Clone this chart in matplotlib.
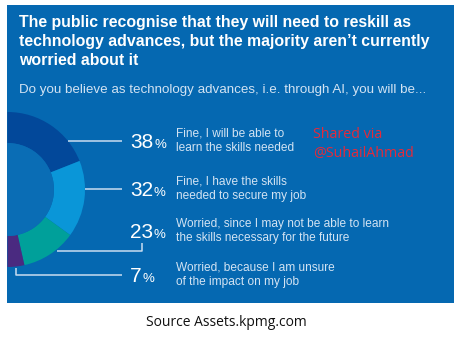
import matplotlib
matplotlib.use("Agg")
import matplotlib.pyplot as plt
from matplotlib.patches import Rectangle, Circle

plt.rcParams['font.family'] = ['Liberation Sans', 'DejaVu Sans']

# survey answers
shares = [38, 32, 23, 7]
answers = [
    "Fine, I will be able to\nlearn the skills needed",
    "Fine, I have the skills\nneeded to secure my job",
    "Worried, since I may not be able to learn\nthe skills necessary for the future",
    "Worried, because I am unsure\nof the impact on my job",
]
seg_colors = ['#02489A', '#0A96D8', '#00A09A', '#4A2A80']

title = ("The public recognise that they will need to reskill as\n"
         "technology advances, but the majority aren\u2019t currently\n"
         "worried about it")
question = "Do you believe as technology advances, i.e. through AI, you will be..."

W, H = 454, 346
BG = '#0568B1'
PALE = '#D2E3F3'


def py(y):
    # pixel row (from top) -> data y
    return H - y


fig = plt.figure(figsize=(W / 100, H / 100), dpi=100)
ax = fig.add_axes([0, 0, 1, 1])

panel = Rectangle((7, py(303)), W - 7, 298, facecolor=BG, edgecolor='none', zorder=0)
ax.add_patch(panel)

# half donut: the hidden half balances the visible one
cx, cy, r_out, r_in = 7.5, py(189.5), 77.5, 46.5
wedges, _ = ax.pie(shares + [sum(shares)], colors=seg_colors + ['none'],
                   startangle=90, counterclock=False, radius=r_out,
                   center=(cx, cy), frame=True,
                   wedgeprops=dict(width=r_out - r_in, linewidth=0))
for w in wedges:
    w.set_clip_path(panel)
hole = Circle((cx, cy), r_in, facecolor='#0A6DB5', edgecolor='none', zorder=1)
ax.add_patch(hole)
hole.set_clip_path(panel)

# leader lines
lc = dict(color='#C9DDF0', lw=1.1, solid_capstyle='butt', zorder=3)
ax.plot([68, 122], [py(141), py(141)], **lc)
ax.plot([85, 122], [py(189), py(189)], **lc)
ax.plot([57, 142, 142], [py(251), py(251), py(243)], **lc)
ax.plot([16, 16, 122], [py(268), py(275), py(275)], **lc)

# percentages and answer labels
pct_y = [148, 196, 238, 282]
lab_y = [141, 189, 231, 275]
for v, txt, yp, yl in zip(shares, answers, pct_y, lab_y):
    num = ax.text(130, py(yp), str(v), color='white', fontsize=15,
                  ha='left', va='baseline', zorder=4)
    ax.annotate('%', xy=(1, 0.19), xycoords=num, xytext=(0.6, 0),
                textcoords='offset points', color='white', fontsize=9.5,
                ha='left', va='baseline', zorder=4)
    ax.text(176, py(yl), txt, color=PALE, fontsize=8.6, ha='left',
            va='center', linespacing=1.3, zorder=4)

ax.text(19, py(15), title, color='white', fontsize=11.4, fontweight='bold',
        ha='left', va='top', linespacing=1.32)
ax.text(19, py(90), question, color=PALE, fontsize=9.6, ha='left', va='center')

ax.text(313, py(144), "Shared via\n@SuhailAhmad", color='#E52A3A',
        fontsize=10.3, family=['Open Sans', 'DejaVu Sans'],
        ha='left', va='center', linespacing=1.3)

ax.text(226, py(322), "Source Assets.kpmg.com", color='#111111',
        fontsize=10, family=['Open Sans', 'DejaVu Sans'],
        ha='center', va='center')

ax.set_xlim(0, W)
ax.set_ylim(0, H)
ax.set_aspect('auto')
ax.axis('off')

fig.savefig('out.png', dpi=100, facecolor='white')
